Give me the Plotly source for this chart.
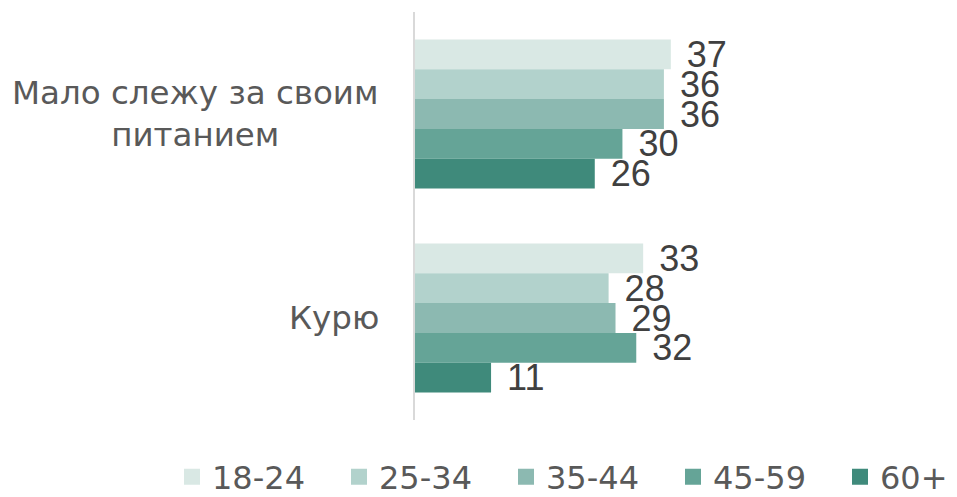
import plotly.graph_objects as go

categories = ["Мало слежу за своим<br>питанием", "Курю"]
series_names = ["18-24", "25-34", "35-44", "45-59", "60+"]
values_18_24 = [37, 33]
values_25_34 = [36, 28]
values_35_44 = [36, 29]
values_45_59 = [30, 32]
values_60_plus = [26, 11]
colors = ["#d9e8e4", "#b2d2cc", "#8cb9b1", "#65a497", "#3f8a7b"]

all_values = [values_18_24, values_25_34, values_35_44, values_45_59, values_60_plus]

# page body adds an 8px offset; compensate
OFF = 8
FIG_W, FIG_H = 957 - OFF, 497 - OFF
L, T = 415 - OFF, 12 - OFF
PW, PH = 484, 408
R = FIG_W - L - PW
B = FIG_H - T - PH

fig = go.Figure()
for name, vals, col in zip(series_names, all_values, colors):
    fig.add_trace(go.Bar(
        y=categories, x=vals, name=name, orientation="h",
        marker=dict(color=col, line=dict(width=0)),
        text=vals, texttemplate=" \u200a%{x}", textposition="outside",
        constraintext="none", cliponaxis=False,
        textfont=dict(family="Liberation Sans", size=36, color="#404040"),
        showlegend=False,
    ))

for i, (name, col) in enumerate(zip(series_names, colors)):
    kw = {}
    if i < len(series_names) - 1:
        kw["legendwidth"] = 122
    fig.add_trace(go.Scatter(
        x=[None], y=[None], mode="markers", name=name,
        marker=dict(symbol="square", size=16, color=col),
        showlegend=True, **kw,
    ))

for cat in categories:
    fig.add_annotation(
        x=(381 - 415) / PW, xref="paper", xanchor="right",
        y=cat, yref="y", yanchor="middle",
        text=cat, showarrow=False, align="center",
        font=dict(family="DejaVu Sans", size=32.5, color="#595959"),
    )

fig.update_layout(
    width=FIG_W, height=FIG_H,
    margin=dict(l=L, r=R, t=T, b=B, autoexpand=False),
    plot_bgcolor="white", paper_bgcolor="white",
    barmode="group", bargap=0.27, bargroupgap=0,
    xaxis=dict(range=[0, 70], showgrid=False, showticklabels=False,
               zeroline=False, showline=False, fixedrange=True),
    yaxis=dict(autorange="reversed", showticklabels=False, showgrid=False,
               showline=True, linecolor="#d9d9d9", linewidth=2,
               ticks="", zeroline=False),
    legend=dict(orientation="h", x=(172 - 415) / PW, xanchor="left",
                y=(420 - 477) / PH, yanchor="middle",
                font=dict(family="DejaVu Sans", size=32, color="#595959"),
                itemwidth=30, traceorder="normal",
                bgcolor="rgba(0,0,0,0)"),
)

fig.write_html("out.html")
